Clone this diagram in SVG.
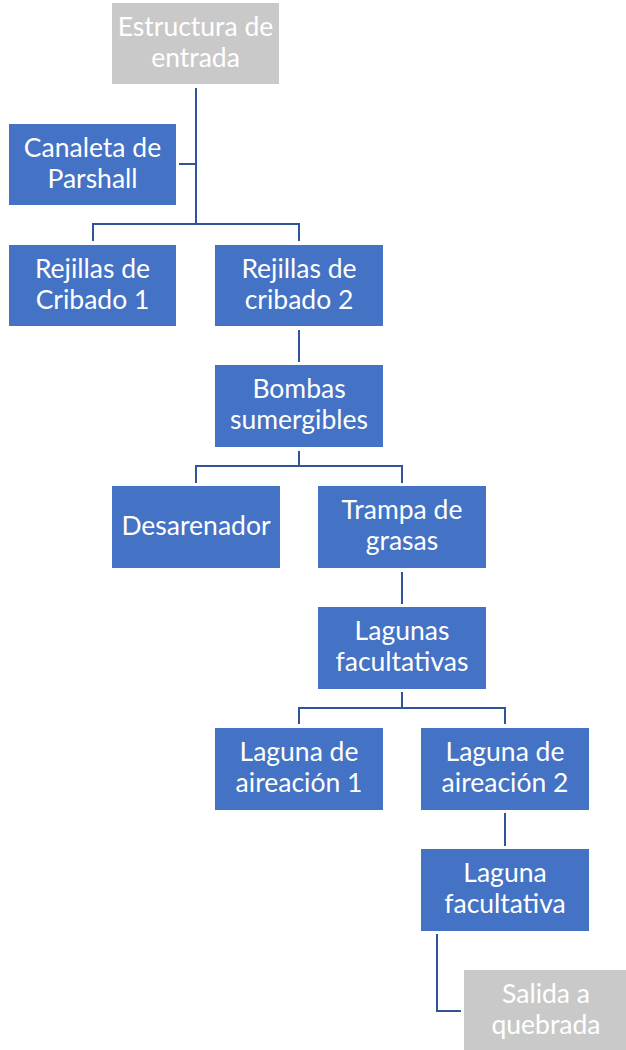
<svg xmlns="http://www.w3.org/2000/svg" width="626" height="1050" viewBox="0 0 626 1050">
<style>
.b{fill:#4472C4;}
.g{fill:#C9C9C9;}
text{font-family:Lato,"Liberation Sans",sans-serif;font-size:26.5px;fill:#FFFFFF;text-anchor:middle;}
.c{fill:none;stroke:#2F5597;stroke-width:2;}
</style>
<rect width="626" height="1050" fill="#FFFFFF"/>
<g id="connectors">
<path class="c" d="M196,88 V225"/>
<path class="c" d="M179,164 H196"/>
<path class="c" d="M93,241 V224 H299 V241"/>
<path class="c" d="M299,330 V362"/>
<path class="c" d="M299,451 V466"/>
<path class="c" d="M196,483 V466 H402 V483"/>
<path class="c" d="M402,572 V604"/>
<path class="c" d="M402,692 V708"/>
<path class="c" d="M299,724 V708 H505 V724"/>
<path class="c" d="M505,813 V846"/>
<path class="c" d="M437,934 V1011 H461"/>
</g>
<g id="n1"><rect class="g" x="112" y="3" width="167" height="81"/><text x="195.5" y="36">Estructura de</text><text x="195.5" y="67">entrada</text></g>
<g id="n2"><rect class="b" x="9" y="124" width="167" height="81"/><text x="92.5" y="157">Canaleta de</text><text x="92.5" y="188">Parshall</text></g>
<g id="n3"><rect class="b" x="9" y="245" width="167" height="81"/><text x="92.5" y="278">Rejillas de</text><text x="92.5" y="309">Cribado 1</text></g>
<g id="n4"><rect class="b" x="215" y="245" width="168" height="81"/><text x="299" y="278">Rejillas de</text><text x="299" y="309">cribado 2</text></g>
<g id="n5"><rect class="b" x="215" y="365" width="168" height="82"/><text x="299" y="398">Bombas</text><text x="299" y="429">sumergibles</text></g>
<g id="n6"><rect class="b" x="112" y="486" width="168" height="82"/><text x="196" y="535">Desarenador</text></g>
<g id="n7"><rect class="b" x="318" y="486" width="168" height="82"/><text x="402" y="519">Trampa de</text><text x="402" y="550">grasas</text></g>
<g id="n8"><rect class="b" x="318" y="607" width="168" height="82"/><text x="402" y="640">Lagunas</text><text x="402" y="671">facultativas</text></g>
<g id="n9"><rect class="b" x="215" y="728" width="168" height="82"/><text x="299" y="761">Laguna de</text><text x="299" y="792">aireación 1</text></g>
<g id="n10"><rect class="b" x="421" y="728" width="168" height="82"/><text x="505" y="761">Laguna de</text><text x="505" y="792">aireación 2</text></g>
<g id="n11"><rect class="b" x="421" y="849" width="168" height="82"/><text x="505" y="882">Laguna</text><text x="505" y="913">facultativa</text></g>
<g id="n12"><rect class="g" x="464" y="970" width="162" height="80"/><text x="546" y="1003">Salida a</text><text x="546" y="1034">quebrada</text></g>
</svg>
